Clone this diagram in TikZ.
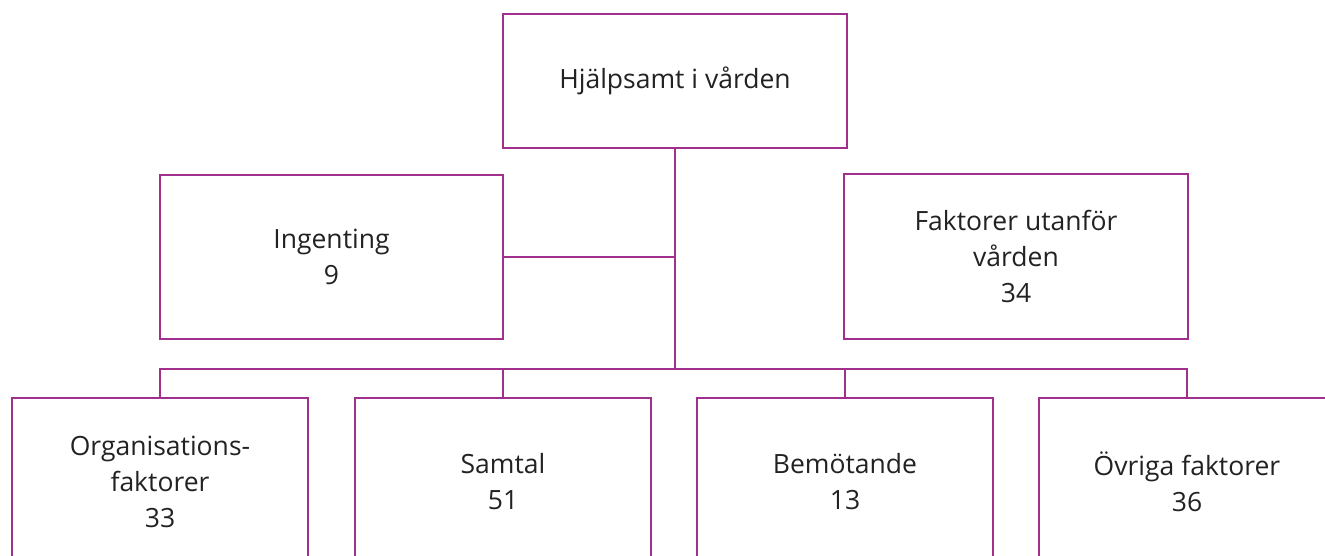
\documentclass[tikz,border=0pt]{standalone}
\usepackage{fontspec}
\setmainfont{Open Sans}
\definecolor{lila}{RGB}{160,48,140}
\definecolor{txt}{RGB}{34,34,34}
\begin{document}
\begin{tikzpicture}[x=1pt,y=-1pt,
  box/.style={draw=lila,line width=1.8pt,rectangle,inner sep=0pt,align=center,
    text=txt,font=\fontsize{26.5}{36}\selectfont},
  conn/.style={draw=lila,line width=1.8pt}]
\useasboundingbox (0,0) rectangle (1325,556);
\clip (0,0) rectangle (1325,556);
\node[box,minimum width=344pt,minimum height=134pt] (top) at (675,81) {Hjälpsamt i vården};
\node[box,minimum width=343pt,minimum height=164pt] (ing) at (331.5,257) {Ingenting\\9};
\node[box,minimum width=344pt,minimum height=165pt] (fak) at (1016,256.5) {Faktorer utanför\\vården\\34};
\node[box,minimum width=296pt,minimum height=168pt] (org) at (160,482) {Organisations-\\faktorer\\33};
\node[box,minimum width=296pt,minimum height=168pt] (sam) at (503,482) {Samtal\\51};
\node[box,minimum width=296pt,minimum height=168pt] (bem) at (845,482) {Bemötande\\13};
\node[box,minimum width=296pt,minimum height=168pt] (ovr) at (1187,482) {Övriga faktorer\\36};
\coordinate (bus) at (675,369);
\draw[conn] (top.south) -- (bus);
\draw[conn] (ing.east) -- (ing.east -| bus);
\draw[conn] (org.north) -- (org.north |- bus) -- (ovr.north |- bus) -- (ovr.north);
\draw[conn] (sam.north) -- (sam.north |- bus);
\draw[conn] (bem.north) -- (bem.north |- bus);
\end{tikzpicture}
\end{document}
